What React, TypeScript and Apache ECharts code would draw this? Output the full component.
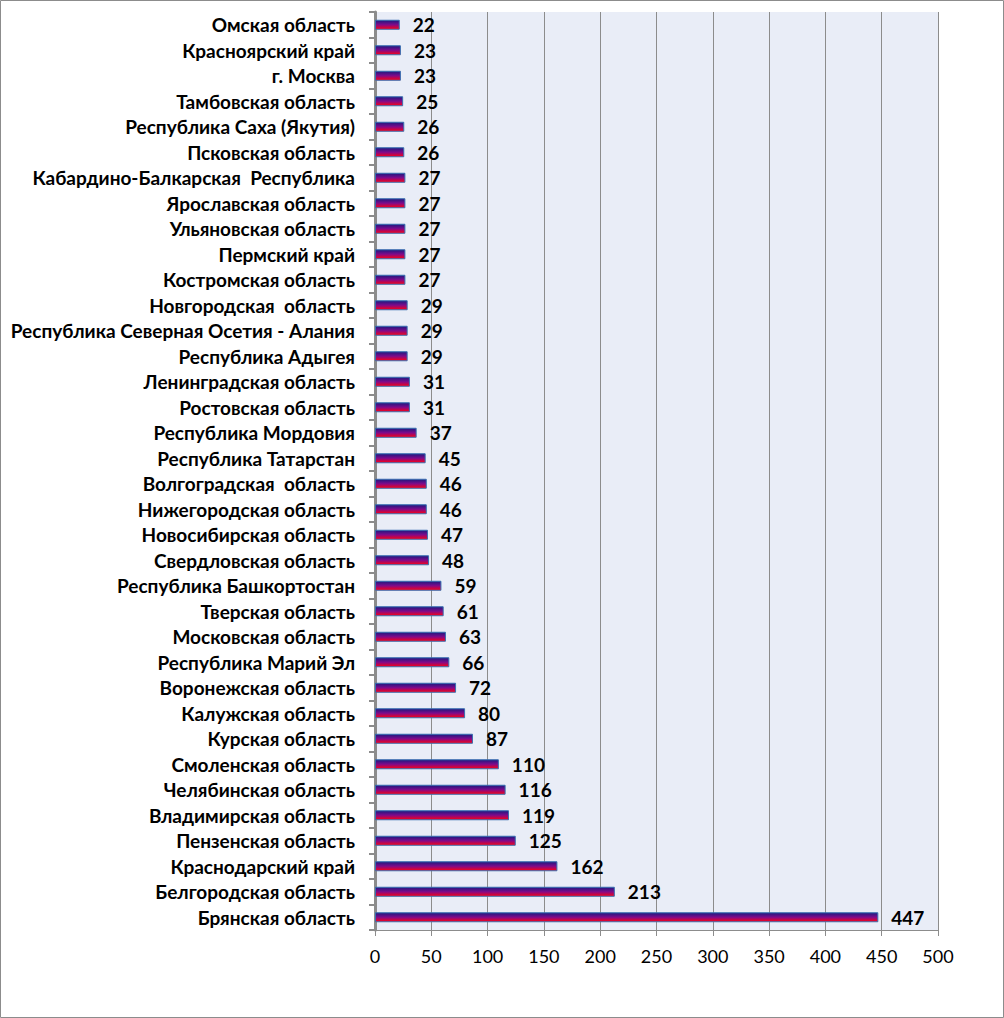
import React, { useEffect, useRef } from "react";
import * as echarts from "echarts";

const categories = [
  "Омская область",
  "Красноярский край",
  "г. Москва",
  "Тамбовская область",
  "Республика Саха (Якутия)",
  "Псковская область",
  "Кабардино-Балкарская  Республика",
  "Ярославская область",
  "Ульяновская область",
  "Пермский край",
  "Костромская область",
  "Новгородская  область",
  "Республика Северная Осетия - Алания",
  "Республика Адыгея",
  "Ленинградская область",
  "Ростовская область",
  "Республика Мордовия",
  "Республика Татарстан",
  "Волгоградская  область",
  "Нижегородская область",
  "Новосибирская область",
  "Свердловская область",
  "Республика Башкортостан",
  "Тверская область",
  "Московская область",
  "Республика Марий Эл",
  "Воронежская область",
  "Калужская область",
  "Курская область",
  "Смоленская область",
  "Челябинская область",
  "Владимирская область",
  "Пензенская область",
  "Краснодарский край",
  "Белгородская область",
  "Брянская область",
];

const values = [
  22, 23, 23, 25, 26, 26, 27, 27, 27, 27, 27, 29, 29, 29, 31, 31, 37, 45, 46, 46,
  47, 48, 59, 61, 63, 66, 72, 80, 87, 110, 116, 119, 125, 162, 213, 447,
];

const xMin = 0;
const xMax = 500;
const xStep = 50;

export default function App() {
  const ref = useRef<HTMLDivElement>(null);
  useEffect(() => {
    if (!ref.current) return;
    const chart = echarts.init(ref.current, undefined, { renderer: "svg" });
    const font = "Lato, 'Open Sans', 'DejaVu Sans', sans-serif";
    chart.setOption({
      animation: false,
      backgroundColor: "#ffffff",
      graphic: [
        {
          type: "rect",
          shape: { x: 0.5, y: 0.5, width: 1003, height: 1017 },
          style: { fill: "none", stroke: "#8c8c8c", lineWidth: 1 },
          silent: true,
        },
      ],
      grid: {
        left: 375,
        top: 12,
        right: 66,
        bottom: 88,
        show: true,
        backgroundColor: "#e9edf7",
        borderWidth: 0,
      },
      xAxis: {
        type: "value",
        min: xMin,
        max: xMax,
        interval: xStep,
        axisLine: { show: true, lineStyle: { color: "#8c8c8c", width: 1 } },
        axisTick: { show: true, length: 6, lineStyle: { color: "#8c8c8c" } },
        splitLine: { show: true, lineStyle: { color: "#8c8c8c", width: 1 } },
        axisLabel: {
          color: "#000",
          fontSize: 18,
          fontFamily: font,
          margin: 17,
        },
      },
      yAxis: {
        type: "category",
        data: categories,
        inverse: true,
        axisLine: { show: true, lineStyle: { color: "#8c8c8c", width: 3 } },
        axisTick: { show: true, length: 6, lineStyle: { color: "#8c8c8c", width: 2 } },
        axisLabel: {
          color: "#000",
          fontSize: 19,
          fontWeight: "bold",
          fontFamily: font,
          margin: 20,
        },
      },
      series: [
        {
          type: "bar",
          data: values,
          barWidth: 10,
          itemStyle: {
            color: new echarts.graphic.LinearGradient(0, 0, 0, 1, [
              { offset: 0, color: "#1a1a80" },
              { offset: 0.5, color: "#800a8a" },
              { offset: 1, color: "#ff0010" },
            ]),
            borderColor: "#3a6fb0",
            borderWidth: 1,
          },
          label: {
            show: true,
            position: "right",
            distance: 13,
            color: "#000",
            fontSize: 19,
            fontWeight: "bold",
            fontFamily: font,
          },
        },
      ],
    });
    return () => chart.dispose();
  }, []);
  return <div ref={ref} style={{ width: 1004, height: 1018, position: "absolute", left: 0, top: 0 }} />;
}
